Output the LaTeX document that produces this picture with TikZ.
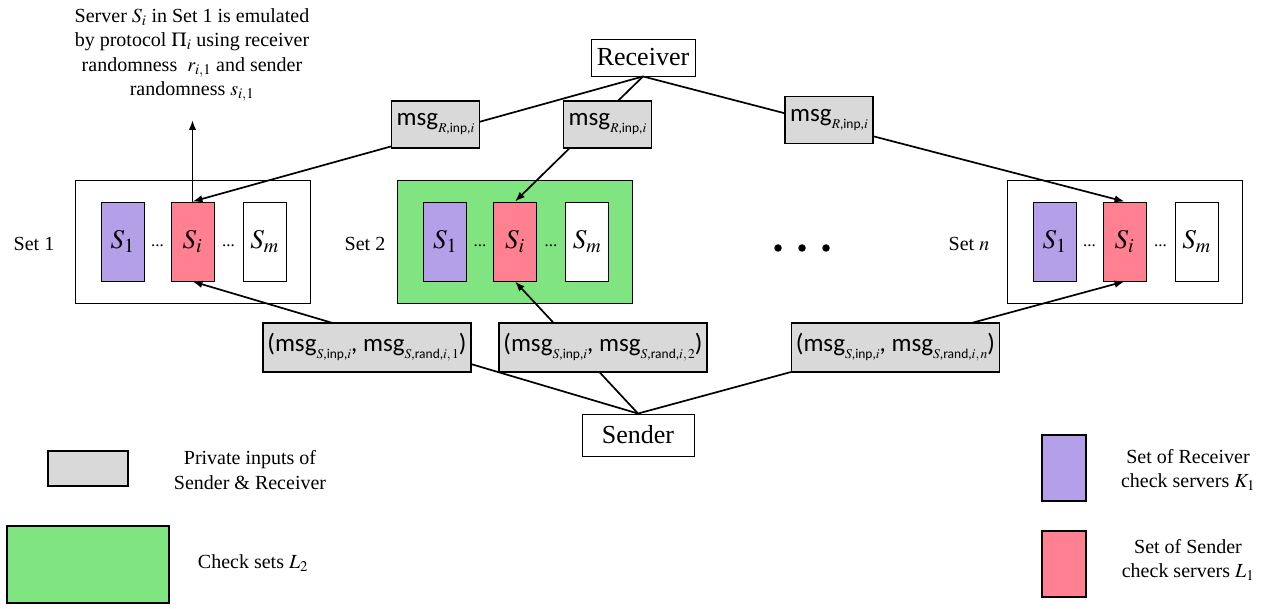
\documentclass[tikz,border=0pt]{standalone}
\usepackage{amsmath}
\usepackage{mathptmx}
\usepackage{fontspec}
\setmainfont{Liberation Serif}
\setsansfont{Carlito}
\usetikzlibrary{arrows.meta,calc}

\definecolor{msggray}{HTML}{D9D9D9}
\definecolor{rpurple}{HTML}{B4A0E8}
\definecolor{spink}{HTML}{FF8091}
\definecolor{lgreen}{HTML}{80E480}

% lowered small subscript for the message labels
\newcommand{\lowsub}[1]{\raisebox{-7pt}{\fontsize{13.5}{14}\selectfont #1}}
\newcommand{\msgR}{msg\lowsub{$R$,inp,$i$}}
\newcommand{\msgS}[1]{(msg\lowsub{$S$,inp,$i$}, msg\lowsub{$S$,rand,$i,#1$})}

\tikzset{
  plain/.style={font=\fontsize{20}{24.5}\selectfont, align=center, inner sep=0pt},
  party/.style={draw, line width=0.9pt, fill=white, inner sep=0pt,
                font=\fontsize{26}{30}\selectfont},
  msgbox/.style={draw, line width=1.4pt, fill=msggray, inner sep=0pt,
                 font=\fontsize{25}{30}\selectfont\sffamily},
  setbox/.style={draw, line width=0.9pt, minimum width=235pt, minimum height=123pt, inner sep=0pt},
  srv/.style={draw, line width=0.9pt, minimum width=43pt, minimum height=79pt, inner sep=0pt,
              font=\fontsize{27}{30}\selectfont},
  gap/.style={inner sep=0pt, font=\fontsize{17}{17}\selectfont},
  bigdot/.style={circle, fill=black, inner sep=0pt, minimum size=7.5pt},
  conn/.style={line width=1.7pt},
  arr/.style={conn, -{Latex[length=10pt,width=7.5pt]}},
  legbox/.style={draw, line width=1.1pt, inner sep=0pt}
}

% one set of servers S_1 ... S_i ... S_m inside a frame
\newcommand{\serverset}[3]{%
  \node[setbox, fill=#3] (#1) at (#2,241.5) {};
  \node[srv, fill=rpurple] (#1-1) at ($(#1.center)+(-70,0)$) {$S_1$};
  \node[srv, fill=spink]   (#1-i) at (#1.center) {$S_i$};
  \node[srv, fill=white]   (#1-m) at ($(#1.center)+(72,0)$) {$S_m$};
  \node[gap] (#1-d1) at ($(#1.center)+(-35,4)$) {...};
  \node[gap] (#1-d2) at ($(#1.center)+(36,4)$) {...};
}

\begin{document}
\begin{tikzpicture}[x=1pt,y=-1pt]
\useasboundingbox (0,0) rectangle (1270,609);

% server sets
\serverset{setA}{192.5}{white}
\serverset{setB}{515}{lgreen}
\serverset{setN}{1124.5}{white}

\node[plain] (labA) at (34,244) {Set 1};
\node[plain] (labB) at (365,244) {Set 2};
\node[plain] (labN) at (969,244) {Set $n$};

\node[bigdot] (dotA) at (778,248) {};
\node[bigdot] (dotB) at (802,248) {};
\node[bigdot] (dotC) at (826,248) {};

% the two parties
\node[party, minimum width=104pt, minimum height=37pt] (rec) at (643,57.5) {Receiver};
\node[party, minimum width=112pt, minimum height=42pt] (snd) at (638,435) {Sender};

% note on the emulated server
\node[plain, anchor=north] (note) at (192,8)
  {Server $S_i$ in Set 1 is emulated\\
   by protocol $\Pi_i$ using receiver\\
   randomness\ \ $r_{i,1}$ and sender\\
   randomness $s_{i,1}$};
\coordinate (noteend) at (192.5,120);
\draw[arr] (setA-i.north) -- (noteend);

% receiver messages
\draw[arr] (rec.south) -- (setA-i.north);
\draw[arr] (rec.south) -- (setB-i.north);
\draw[arr] (rec.south) -- (setN-i.north);

% sender messages
\draw[arr] (snd.north) -- (setA-i.south);
\draw[arr] (snd.north) -- (setB-i.south);
\draw[arr] (snd.north) -- (setN-i.south);

% message labels sitting on the connectors
\node[msgbox, minimum width=88pt, minimum height=47pt] (mrA) at (435.5,124.5) {\msgR};
\node[msgbox, minimum width=88pt, minimum height=47pt] (mrB) at (607.5,124.5) {\msgR};
\node[msgbox, minimum width=88pt, minimum height=47pt] (mrN) at (829,120) {\msgR};

\node[msgbox, minimum width=208pt, minimum height=49pt] (msA) at (367,347.5) {\msgS{1}};
\node[msgbox, minimum width=208pt, minimum height=49pt] (msB) at (603,347.5) {\msgS{2}};
\node[msgbox, minimum width=208pt, minimum height=49pt] (msN) at (895.5,347.5) {\msgS{n}};

% legend
\node[legbox, fill=msggray, minimum width=80pt, minimum height=35pt] (legG) at (88,468.5) {};
\node[plain] (legGt) at (250,470) {Private inputs of\\Sender \& Receiver};
\node[legbox, fill=lgreen, minimum width=162pt, minimum height=77pt] (legL) at (88,564.5) {};
\node[plain] (legLt) at (253,563) {Check sets $L_2$};
\node[legbox, fill=rpurple, minimum width=44pt, minimum height=66pt] (legK) at (1064,468) {};
\node[plain] (legKt) at (1188,470) {Set of Receiver\\check servers $K_1$};
\node[legbox, fill=spink, minimum width=44pt, minimum height=66pt] (legS) at (1064,564) {};
\node[plain] (legSt) at (1188,560) {Set of Sender\\check servers $L_1$};
\end{tikzpicture}
\end{document}
